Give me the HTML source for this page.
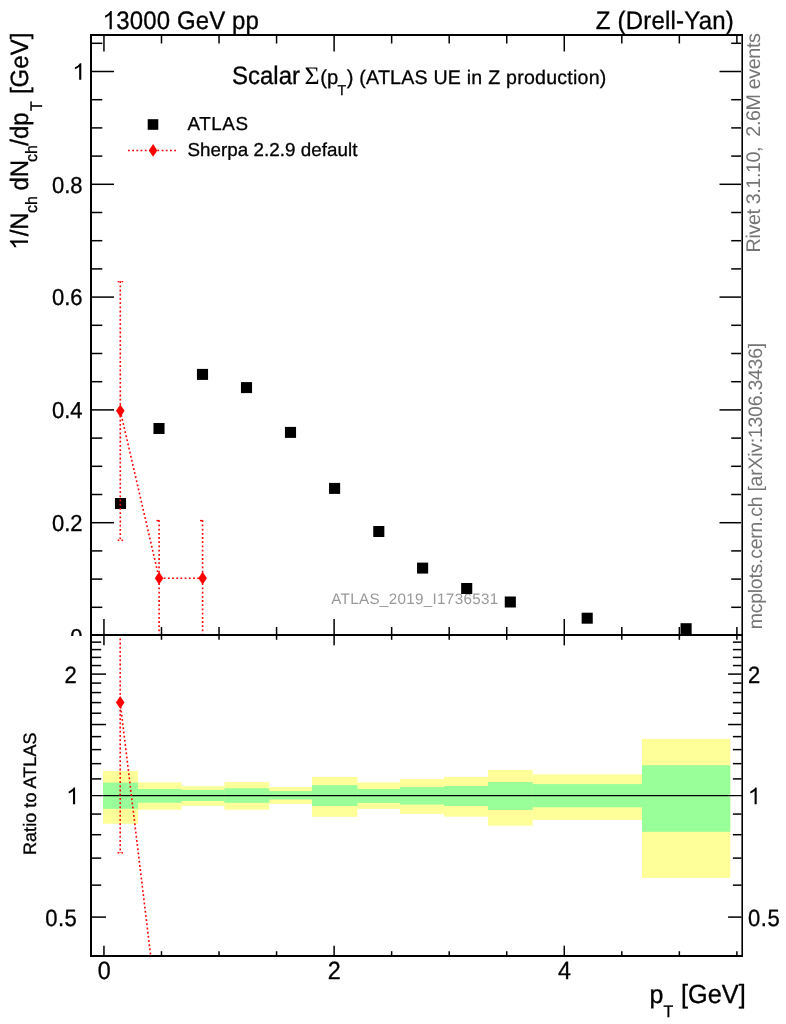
<!DOCTYPE html>
<html><head><meta charset="utf-8"><title>plot</title>
<style>html,body{margin:0;padding:0;background:#fff}svg{display:block;will-change:transform;text-rendering:geometricPrecision;font-family:"Liberation Sans",sans-serif}.sym{font-family:"Liberation Serif",serif}</style></head>
<body>
<svg width="786" height="1024" viewBox="0 0 786 1024"  xml:space="preserve">
<rect x="0" y="0" width="786" height="1024" fill="#fff"/>
<g id="upper">
<path transform="translate(102.37,29.2) scale(0.01235,-0.01235)" d="M763 0H583V1147Q518 1085 412.5 1023Q307 961 223 930V1104Q374 1175 487 1276Q600 1377 647 1472H763Z" fill="#000"/>
<text transform="translate(116.3 29.2) scale(1 1.055)" font-size="24" text-anchor="start" fill="#000" textLength="142.6" lengthAdjust="spacing" stroke="#000" stroke-width="0.3" >3000 GeV pp</text>
<text transform="translate(733.8 29.2) scale(1 1.055)" font-size="24" text-anchor="end" fill="#000" textLength="138" lengthAdjust="spacing" stroke="#000" stroke-width="0.3" >Z (Drell-Yan)</text>
<text transform="translate(232 84.0) scale(1 1.05)" font-size="24" text-anchor="start" fill="#000" stroke="#000" stroke-width="0.3" >Scalar</text>
<text transform="translate(304.6 83.6) scale(1 0.97)" font-size="26" text-anchor="start" fill="#000000" class="sym">&#931;</text>
<text x="320.3" y="84.0" font-size="20.2" text-anchor="start" fill="#000" stroke="#000" stroke-width="0.3" >(p</text>
<text x="337.6" y="94.5" font-size="14.2" text-anchor="start" fill="#000" stroke="#000" stroke-width="0.3" >T</text>
<text x="346.7" y="84.0" font-size="20.2" text-anchor="start" fill="#000" stroke="#000" stroke-width="0.3" >)</text>
<text x="359.3" y="83.9" font-size="19.6" text-anchor="start" fill="#000" textLength="247" lengthAdjust="spacing" stroke="#000" stroke-width="0.3" >(ATLAS UE in Z production)</text>
<rect x="147.7" y="119.2" width="10.6" height="10.6" fill="#000"/>
<text x="187.5" y="129.9" font-size="18.8" text-anchor="start" fill="#000" textLength="60.5" lengthAdjust="spacing" stroke="#000" stroke-width="0.3" >ATLAS</text>
<text x="187.5" y="156" font-size="18.8" text-anchor="start" fill="#000" textLength="170" lengthAdjust="spacing" stroke="#000" stroke-width="0.3" >Sherpa 2.2.9 default</text>
<text x="331.2" y="603.5" font-size="15.2" text-anchor="start" fill="#999" textLength="167" lengthAdjust="spacing" >ATLAS_2019_I1736531</text>
<path transform="translate(72.26,79.8) scale(0.01184,-0.01128)" d="M763 0H583V1147Q518 1085 412.5 1023Q307 961 223 930V1104Q374 1175 487 1276Q600 1377 647 1472H763Z" fill="#000"/>
<text transform="translate(82.6 192.6) scale(1 1.05)" font-size="22" text-anchor="end" fill="#000" stroke="#000" stroke-width="0.3" >0.8</text>
<text transform="translate(82.6 305.4) scale(1 1.05)" font-size="22" text-anchor="end" fill="#000" stroke="#000" stroke-width="0.3" >0.6</text>
<text transform="translate(82.6 418.2) scale(1 1.05)" font-size="22" text-anchor="end" fill="#000" stroke="#000" stroke-width="0.3" >0.4</text>
<text transform="translate(82.6 531.0) scale(1 1.05)" font-size="22" text-anchor="end" fill="#000" stroke="#000" stroke-width="0.3" >0.2</text>
<text transform="translate(82.6 644.7) scale(1 1.05)" font-size="22" text-anchor="end" fill="#000" stroke="#000" stroke-width="0.3" >0</text>
<g transform="translate(28,249) rotate(-90)">
<path transform="translate(-0.99,0) scale(0.01230,-0.01230)" d="M763 0H583V1147Q518 1085 412.5 1023Q307 961 223 930V1104Q374 1175 487 1276Q600 1377 647 1472H763Z" fill="#000"/>
<text transform="translate(12.65 0) scale(1 1.05)" font-size="24" text-anchor="start" fill="#000" stroke="#000" stroke-width="0.3" >/N</text>
<text transform="translate(35.9 9.1) scale(1 1.03)" font-size="16" text-anchor="start" fill="#000" stroke="#000" stroke-width="0.3" >ch</text>
<text transform="translate(58.5 0) scale(1 1.05)" font-size="24" text-anchor="start" fill="#000" stroke="#000" stroke-width="0.3" >dN</text>
<text transform="translate(86.9 9.1) scale(1 1.03)" font-size="16" text-anchor="start" fill="#000" stroke="#000" stroke-width="0.3" >ch</text>
<text transform="translate(103.3 0) scale(1 1.05)" font-size="24" text-anchor="start" fill="#000" stroke="#000" stroke-width="0.3" >/dp</text>
<text transform="translate(137.9 13.9) scale(1 1.05)" font-size="16" text-anchor="start" fill="#000" stroke="#000" stroke-width="0.3" >T</text>
<text transform="translate(154.95 0) scale(1 1.04)" font-size="24" text-anchor="start" fill="#000" stroke="#000" stroke-width="0.3" >[GeV]</text>
</g>
<text transform="translate(760.2 252.4) rotate(-90)" font-size="19.8" text-anchor="start" fill="#757575" textLength="219.3" lengthAdjust="spacing" >Rivet 3.1.10,&#160; 2.6M events</text>
<text transform="translate(762.3 629.3) rotate(-90)" font-size="19.5" text-anchor="start" fill="#757575" textLength="286.5" lengthAdjust="spacing" >mcplots.cern.ch [arXiv:1306.3436]</text>
</g>
<rect x="114.95" y="498.00" width="11.1" height="11" fill="#000"/>
<rect x="153.45" y="423.00" width="11.1" height="11" fill="#000"/>
<rect x="196.95" y="368.90" width="11.1" height="11" fill="#000"/>
<rect x="240.95" y="382.10" width="11.1" height="11" fill="#000"/>
<rect x="284.95" y="426.90" width="11.1" height="11" fill="#000"/>
<rect x="329.05" y="482.90" width="11.1" height="11" fill="#000"/>
<rect x="373.25" y="526.00" width="11.1" height="11" fill="#000"/>
<rect x="417.05" y="562.60" width="11.1" height="11" fill="#000"/>
<rect x="461.15" y="583.00" width="11.1" height="11" fill="#000"/>
<rect x="504.75" y="596.50" width="11.1" height="11" fill="#000"/>
<rect x="581.65" y="612.70" width="11.1" height="11" fill="#000"/>
<rect x="680.55" y="623.20" width="11.1" height="11" fill="#000"/>
<clipPath id="cu"><rect x="92" y="36" width="649" height="598"/></clipPath>
<g clip-path="url(#cu)">
<polyline points="120.3,410.8 159.1,578.2 202.6,578.2" stroke="#ff0000" stroke-width="1.6" stroke-dasharray="1.8 2.4" fill="none"/>
<line x1="120.3" y1="281.2" x2="120.3" y2="540.5" stroke="#ff0000" stroke-width="1.6" stroke-dasharray="1.8 2.4" fill="none"/>
<line x1="159.1" y1="520.3" x2="159.1" y2="640" stroke="#ff0000" stroke-width="1.6" stroke-dasharray="1.8 2.4" fill="none"/>
<line x1="202.6" y1="520.3" x2="202.6" y2="640" stroke="#ff0000" stroke-width="1.6" stroke-dasharray="1.8 2.4" fill="none"/>
<line x1="117.7" y1="281.6" x2="123.1" y2="281.6" stroke="#ff0000" stroke-width="1.4" stroke-dasharray="1.6 2.2"/>
<line x1="117.7" y1="540.2" x2="123.1" y2="540.2" stroke="#ff0000" stroke-width="1.4" stroke-dasharray="1.6 2.2"/>
<line x1="156.5" y1="520.6" x2="159.1" y2="520.6" stroke="#ff0000" stroke-width="1.4" />
<line x1="200.0" y1="520.6" x2="202.6" y2="520.6" stroke="#ff0000" stroke-width="1.4" />
<path d="M120.3,404.40000000000003 L124.6,410.8 L120.3,417.2 L116.0,410.8 Z" fill="#ff0000"/>
<path d="M159.1,571.8000000000001 L163.4,578.2 L159.1,584.6 L154.79999999999998,578.2 Z" fill="#ff0000"/>
<path d="M202.6,571.8000000000001 L206.9,578.2 L202.6,584.6 L198.29999999999998,578.2 Z" fill="#ff0000"/>
</g>
<line x1="128" y1="150.5" x2="176.6" y2="150.5" stroke="#ff0000" stroke-width="1.6" stroke-dasharray="1.8 2.4" fill="none"/>
<path d="M153.1,144.0 L157.4,150.4 L153.1,156.8 L148.79999999999998,150.4 Z" fill="#ff0000"/>
<line x1="103.95" y1="636" x2="103.95" y2="619.0" stroke="#000" stroke-width="1.5" />
<line x1="103.95" y1="35" x2="103.95" y2="51.5" stroke="#000" stroke-width="1.5" />
<line x1="161.49" y1="636" x2="161.49" y2="627.0" stroke="#000" stroke-width="1.5" />
<line x1="161.49" y1="35" x2="161.49" y2="43.5" stroke="#000" stroke-width="1.5" />
<line x1="219.03" y1="636" x2="219.03" y2="627.0" stroke="#000" stroke-width="1.5" />
<line x1="219.03" y1="35" x2="219.03" y2="43.5" stroke="#000" stroke-width="1.5" />
<line x1="276.57" y1="636" x2="276.57" y2="627.0" stroke="#000" stroke-width="1.5" />
<line x1="276.57" y1="35" x2="276.57" y2="43.5" stroke="#000" stroke-width="1.5" />
<line x1="334.11" y1="636" x2="334.11" y2="619.0" stroke="#000" stroke-width="1.5" />
<line x1="334.11" y1="35" x2="334.11" y2="51.5" stroke="#000" stroke-width="1.5" />
<line x1="391.65" y1="636" x2="391.65" y2="627.0" stroke="#000" stroke-width="1.5" />
<line x1="391.65" y1="35" x2="391.65" y2="43.5" stroke="#000" stroke-width="1.5" />
<line x1="449.19" y1="636" x2="449.19" y2="627.0" stroke="#000" stroke-width="1.5" />
<line x1="449.19" y1="35" x2="449.19" y2="43.5" stroke="#000" stroke-width="1.5" />
<line x1="506.72999999999996" y1="636" x2="506.72999999999996" y2="627.0" stroke="#000" stroke-width="1.5" />
<line x1="506.72999999999996" y1="35" x2="506.72999999999996" y2="43.5" stroke="#000" stroke-width="1.5" />
<line x1="564.27" y1="636" x2="564.27" y2="619.0" stroke="#000" stroke-width="1.5" />
<line x1="564.27" y1="35" x2="564.27" y2="51.5" stroke="#000" stroke-width="1.5" />
<line x1="621.8100000000001" y1="636" x2="621.8100000000001" y2="627.0" stroke="#000" stroke-width="1.5" />
<line x1="621.8100000000001" y1="35" x2="621.8100000000001" y2="43.5" stroke="#000" stroke-width="1.5" />
<line x1="679.35" y1="636" x2="679.35" y2="627.0" stroke="#000" stroke-width="1.5" />
<line x1="679.35" y1="35" x2="679.35" y2="43.5" stroke="#000" stroke-width="1.5" />
<line x1="736.89" y1="636" x2="736.89" y2="627.0" stroke="#000" stroke-width="1.5" />
<line x1="736.89" y1="35" x2="736.89" y2="43.5" stroke="#000" stroke-width="1.5" />
<line x1="91" y1="635.5" x2="114" y2="635.5" stroke="#000" stroke-width="1.5" />
<line x1="741" y1="635.5" x2="719.5" y2="635.5" stroke="#000" stroke-width="1.5" />
<line x1="91" y1="607.3" x2="102.3" y2="607.3" stroke="#000" stroke-width="1.5" />
<line x1="741" y1="607.3" x2="731.2" y2="607.3" stroke="#000" stroke-width="1.5" />
<line x1="91" y1="579.1" x2="102.3" y2="579.1" stroke="#000" stroke-width="1.5" />
<line x1="741" y1="579.1" x2="731.2" y2="579.1" stroke="#000" stroke-width="1.5" />
<line x1="91" y1="550.9" x2="102.3" y2="550.9" stroke="#000" stroke-width="1.5" />
<line x1="741" y1="550.9" x2="731.2" y2="550.9" stroke="#000" stroke-width="1.5" />
<line x1="91" y1="522.7" x2="114" y2="522.7" stroke="#000" stroke-width="1.5" />
<line x1="741" y1="522.7" x2="719.5" y2="522.7" stroke="#000" stroke-width="1.5" />
<line x1="91" y1="494.5" x2="102.3" y2="494.5" stroke="#000" stroke-width="1.5" />
<line x1="741" y1="494.5" x2="731.2" y2="494.5" stroke="#000" stroke-width="1.5" />
<line x1="91" y1="466.29999999999995" x2="102.3" y2="466.29999999999995" stroke="#000" stroke-width="1.5" />
<line x1="741" y1="466.29999999999995" x2="731.2" y2="466.29999999999995" stroke="#000" stroke-width="1.5" />
<line x1="91" y1="438.1" x2="102.3" y2="438.1" stroke="#000" stroke-width="1.5" />
<line x1="741" y1="438.1" x2="731.2" y2="438.1" stroke="#000" stroke-width="1.5" />
<line x1="91" y1="409.9" x2="114" y2="409.9" stroke="#000" stroke-width="1.5" />
<line x1="741" y1="409.9" x2="719.5" y2="409.9" stroke="#000" stroke-width="1.5" />
<line x1="91" y1="381.7" x2="102.3" y2="381.7" stroke="#000" stroke-width="1.5" />
<line x1="741" y1="381.7" x2="731.2" y2="381.7" stroke="#000" stroke-width="1.5" />
<line x1="91" y1="353.5" x2="102.3" y2="353.5" stroke="#000" stroke-width="1.5" />
<line x1="741" y1="353.5" x2="731.2" y2="353.5" stroke="#000" stroke-width="1.5" />
<line x1="91" y1="325.29999999999995" x2="102.3" y2="325.29999999999995" stroke="#000" stroke-width="1.5" />
<line x1="741" y1="325.29999999999995" x2="731.2" y2="325.29999999999995" stroke="#000" stroke-width="1.5" />
<line x1="91" y1="297.09999999999997" x2="114" y2="297.09999999999997" stroke="#000" stroke-width="1.5" />
<line x1="741" y1="297.09999999999997" x2="719.5" y2="297.09999999999997" stroke="#000" stroke-width="1.5" />
<line x1="91" y1="268.9" x2="102.3" y2="268.9" stroke="#000" stroke-width="1.5" />
<line x1="741" y1="268.9" x2="731.2" y2="268.9" stroke="#000" stroke-width="1.5" />
<line x1="91" y1="240.7" x2="102.3" y2="240.7" stroke="#000" stroke-width="1.5" />
<line x1="741" y1="240.7" x2="731.2" y2="240.7" stroke="#000" stroke-width="1.5" />
<line x1="91" y1="212.5" x2="102.3" y2="212.5" stroke="#000" stroke-width="1.5" />
<line x1="741" y1="212.5" x2="731.2" y2="212.5" stroke="#000" stroke-width="1.5" />
<line x1="91" y1="184.29999999999995" x2="114" y2="184.29999999999995" stroke="#000" stroke-width="1.5" />
<line x1="741" y1="184.29999999999995" x2="719.5" y2="184.29999999999995" stroke="#000" stroke-width="1.5" />
<line x1="91" y1="156.09999999999997" x2="102.3" y2="156.09999999999997" stroke="#000" stroke-width="1.5" />
<line x1="741" y1="156.09999999999997" x2="731.2" y2="156.09999999999997" stroke="#000" stroke-width="1.5" />
<line x1="91" y1="127.89999999999998" x2="102.3" y2="127.89999999999998" stroke="#000" stroke-width="1.5" />
<line x1="741" y1="127.89999999999998" x2="731.2" y2="127.89999999999998" stroke="#000" stroke-width="1.5" />
<line x1="91" y1="99.69999999999993" x2="102.3" y2="99.69999999999993" stroke="#000" stroke-width="1.5" />
<line x1="741" y1="99.69999999999993" x2="731.2" y2="99.69999999999993" stroke="#000" stroke-width="1.5" />
<line x1="91" y1="71.5" x2="114" y2="71.5" stroke="#000" stroke-width="1.5" />
<line x1="741" y1="71.5" x2="719.5" y2="71.5" stroke="#000" stroke-width="1.5" />
<line x1="91" y1="43.299999999999955" x2="102.3" y2="43.299999999999955" stroke="#000" stroke-width="1.5" />
<line x1="741" y1="43.299999999999955" x2="731.2" y2="43.299999999999955" stroke="#000" stroke-width="1.5" />
<rect x="0" y="636" width="786" height="388" fill="#fff"/>
<rect x="103" y="771" width="35.05" height="52.80" fill="#ffff99"/>
<rect x="137.75" y="782.4" width="43.95" height="27.30" fill="#ffff99"/>
<rect x="181.4" y="786.2" width="43.30" height="19.60" fill="#ffff99"/>
<rect x="224.4" y="782.1" width="44.80" height="27.60" fill="#ffff99"/>
<rect x="268.9" y="787.1" width="43.40" height="16.70" fill="#ffff99"/>
<rect x="312" y="776.9" width="45.50" height="39.90" fill="#ffff99"/>
<rect x="357.2" y="782.4" width="43.10" height="26.60" fill="#ffff99"/>
<rect x="400" y="779.1" width="44.30" height="34.70" fill="#ffff99"/>
<rect x="444" y="776.9" width="44.30" height="39.70" fill="#ffff99"/>
<rect x="488" y="770" width="44.70" height="55.70" fill="#ffff99"/>
<rect x="532.4" y="774.4" width="109.90" height="45.40" fill="#ffff99"/>
<rect x="642" y="738.9" width="88.30" height="139.00" fill="#ffff99"/>
<rect x="103" y="782.6" width="35.05" height="26.20" fill="#99ff99"/>
<rect x="137.75" y="789" width="43.95" height="13.75" fill="#99ff99"/>
<rect x="181.4" y="789.9" width="43.30" height="11.10" fill="#99ff99"/>
<rect x="224.4" y="788.3" width="44.80" height="14.50" fill="#99ff99"/>
<rect x="268.9" y="791.1" width="43.40" height="8.40" fill="#99ff99"/>
<rect x="312" y="785.1" width="45.50" height="20.90" fill="#99ff99"/>
<rect x="357.2" y="789" width="43.10" height="13.90" fill="#99ff99"/>
<rect x="400" y="787.1" width="44.30" height="17.40" fill="#99ff99"/>
<rect x="444" y="786" width="44.30" height="20.00" fill="#99ff99"/>
<rect x="488" y="782.1" width="44.70" height="27.80" fill="#99ff99"/>
<rect x="532.4" y="784.1" width="109.90" height="23.20" fill="#99ff99"/>
<rect x="642" y="765.2" width="88.30" height="66.60" fill="#99ff99"/>
<line x1="91" y1="795.6" x2="742" y2="795.6" stroke="#000" stroke-width="1.3" />
<clipPath id="cl"><rect x="92" y="636" width="649" height="319"/></clipPath>
<g clip-path="url(#cl)">
<line x1="120.2" y1="630" x2="120.2" y2="853.1" stroke="#ff0000" stroke-width="1.6" stroke-dasharray="1.8 2.4" fill="none"/>
<line x1="117.6" y1="852.8" x2="123" y2="852.8" stroke="#ff0000" stroke-width="1.4" stroke-dasharray="1.6 2.2"/>
<line x1="120.2" y1="702.4" x2="159" y2="1025" stroke="#ff0000" stroke-width="1.6" stroke-dasharray="1.8 2.4" fill="none"/>
<path d="M120.2,696.0 L124.5,702.4 L120.2,708.8 L115.9,702.4 Z" fill="#ff0000"/>
</g>
<line x1="103.95" y1="636" x2="103.95" y2="645.3" stroke="#000" stroke-width="1.5" />
<line x1="103.95" y1="955" x2="103.95" y2="945.7" stroke="#000" stroke-width="1.5" />
<line x1="161.49" y1="636" x2="161.49" y2="639.8" stroke="#000" stroke-width="1.5" />
<line x1="161.49" y1="955" x2="161.49" y2="951.2" stroke="#000" stroke-width="1.5" />
<line x1="219.03" y1="636" x2="219.03" y2="639.8" stroke="#000" stroke-width="1.5" />
<line x1="219.03" y1="955" x2="219.03" y2="951.2" stroke="#000" stroke-width="1.5" />
<line x1="276.57" y1="636" x2="276.57" y2="639.8" stroke="#000" stroke-width="1.5" />
<line x1="276.57" y1="955" x2="276.57" y2="951.2" stroke="#000" stroke-width="1.5" />
<line x1="334.11" y1="636" x2="334.11" y2="645.3" stroke="#000" stroke-width="1.5" />
<line x1="334.11" y1="955" x2="334.11" y2="945.7" stroke="#000" stroke-width="1.5" />
<line x1="391.65" y1="636" x2="391.65" y2="639.8" stroke="#000" stroke-width="1.5" />
<line x1="391.65" y1="955" x2="391.65" y2="951.2" stroke="#000" stroke-width="1.5" />
<line x1="449.19" y1="636" x2="449.19" y2="639.8" stroke="#000" stroke-width="1.5" />
<line x1="449.19" y1="955" x2="449.19" y2="951.2" stroke="#000" stroke-width="1.5" />
<line x1="506.72999999999996" y1="636" x2="506.72999999999996" y2="639.8" stroke="#000" stroke-width="1.5" />
<line x1="506.72999999999996" y1="955" x2="506.72999999999996" y2="951.2" stroke="#000" stroke-width="1.5" />
<line x1="564.27" y1="636" x2="564.27" y2="645.3" stroke="#000" stroke-width="1.5" />
<line x1="564.27" y1="955" x2="564.27" y2="945.7" stroke="#000" stroke-width="1.5" />
<line x1="621.8100000000001" y1="636" x2="621.8100000000001" y2="639.8" stroke="#000" stroke-width="1.5" />
<line x1="621.8100000000001" y1="955" x2="621.8100000000001" y2="951.2" stroke="#000" stroke-width="1.5" />
<line x1="679.35" y1="636" x2="679.35" y2="639.8" stroke="#000" stroke-width="1.5" />
<line x1="679.35" y1="955" x2="679.35" y2="951.2" stroke="#000" stroke-width="1.5" />
<line x1="736.89" y1="636" x2="736.89" y2="639.8" stroke="#000" stroke-width="1.5" />
<line x1="736.89" y1="955" x2="736.89" y2="951.2" stroke="#000" stroke-width="1.5" />
<line x1="91" y1="917.1" x2="106" y2="917.1" stroke="#000" stroke-width="1.5" />
<line x1="741.5" y1="917.1" x2="728.1" y2="917.1" stroke="#000" stroke-width="1.5" />
<line x1="91" y1="885.1413196911941" x2="101.2" y2="885.1413196911941" stroke="#000" stroke-width="1.5" />
<line x1="741.5" y1="885.1413196911941" x2="732.9" y2="885.1413196911941" stroke="#000" stroke-width="1.5" />
<line x1="91" y1="858.1206404988156" x2="101.2" y2="858.1206404988156" stroke="#000" stroke-width="1.5" />
<line x1="741.5" y1="858.1206404988156" x2="732.9" y2="858.1206404988156" stroke="#000" stroke-width="1.5" />
<line x1="91" y1="834.7142635288145" x2="101.2" y2="834.7142635288145" stroke="#000" stroke-width="1.5" />
<line x1="741.5" y1="834.7142635288145" x2="732.9" y2="834.7142635288145" stroke="#000" stroke-width="1.5" />
<line x1="91" y1="814.0683758535736" x2="101.2" y2="814.0683758535736" stroke="#000" stroke-width="1.5" />
<line x1="741.5" y1="814.0683758535736" x2="732.9" y2="814.0683758535736" stroke="#000" stroke-width="1.5" />
<line x1="91" y1="778.8933218643829" x2="101.2" y2="778.8933218643829" stroke="#000" stroke-width="1.5" />
<line x1="741.5" y1="778.8933218643829" x2="732.9" y2="778.8933218643829" stroke="#000" stroke-width="1.5" />
<line x1="91" y1="763.6413196911941" x2="101.2" y2="763.6413196911941" stroke="#000" stroke-width="1.5" />
<line x1="741.5" y1="763.6413196911941" x2="732.9" y2="763.6413196911941" stroke="#000" stroke-width="1.5" />
<line x1="91" y1="749.6108377746718" x2="101.2" y2="749.6108377746718" stroke="#000" stroke-width="1.5" />
<line x1="741.5" y1="749.6108377746718" x2="732.9" y2="749.6108377746718" stroke="#000" stroke-width="1.5" />
<line x1="91" y1="736.6206404988156" x2="101.2" y2="736.6206404988156" stroke="#000" stroke-width="1.5" />
<line x1="741.5" y1="736.6206404988156" x2="732.9" y2="736.6206404988156" stroke="#000" stroke-width="1.5" />
<line x1="91" y1="724.5270561623795" x2="106" y2="724.5270561623795" stroke="#000" stroke-width="1.5" />
<line x1="741.5" y1="724.5270561623795" x2="728.1" y2="724.5270561623795" stroke="#000" stroke-width="1.5" />
<line x1="91" y1="713.2142635288145" x2="101.2" y2="713.2142635288145" stroke="#000" stroke-width="1.5" />
<line x1="741.5" y1="713.2142635288145" x2="732.9" y2="713.2142635288145" stroke="#000" stroke-width="1.5" />
<line x1="91" y1="702.5875283168983" x2="101.2" y2="702.5875283168983" stroke="#000" stroke-width="1.5" />
<line x1="741.5" y1="702.5875283168983" x2="732.9" y2="702.5875283168983" stroke="#000" stroke-width="1.5" />
<line x1="91" y1="692.5683758535736" x2="101.2" y2="692.5683758535736" stroke="#000" stroke-width="1.5" />
<line x1="741.5" y1="692.5683758535736" x2="732.9" y2="692.5683758535736" stroke="#000" stroke-width="1.5" />
<line x1="91" y1="683.0910706454189" x2="101.2" y2="683.0910706454189" stroke="#000" stroke-width="1.5" />
<line x1="741.5" y1="683.0910706454189" x2="732.9" y2="683.0910706454189" stroke="#000" stroke-width="1.5" />
<line x1="91" y1="674.1" x2="106" y2="674.1" stroke="#000" stroke-width="1.5" />
<line x1="741.5" y1="674.1" x2="728.1" y2="674.1" stroke="#000" stroke-width="1.5" />
<line x1="91" y1="665.5476966611951" x2="101.2" y2="665.5476966611951" stroke="#000" stroke-width="1.5" />
<line x1="741.5" y1="665.5476966611951" x2="732.9" y2="665.5476966611951" stroke="#000" stroke-width="1.5" />
<line x1="91" y1="657.3933218643829" x2="101.2" y2="657.3933218643829" stroke="#000" stroke-width="1.5" />
<line x1="741.5" y1="657.3933218643829" x2="732.9" y2="657.3933218643829" stroke="#000" stroke-width="1.5" />
<line x1="91" y1="649.6014858678875" x2="101.2" y2="649.6014858678875" stroke="#000" stroke-width="1.5" />
<line x1="741.5" y1="649.6014858678875" x2="732.9" y2="649.6014858678875" stroke="#000" stroke-width="1.5" />
<line x1="91" y1="642.141319691194" x2="101.2" y2="642.141319691194" stroke="#000" stroke-width="1.5" />
<line x1="741.5" y1="642.141319691194" x2="732.9" y2="642.141319691194" stroke="#000" stroke-width="1.5" />
<text transform="translate(76.8 682.7) scale(1 1.07)" font-size="22" text-anchor="end" fill="#000" stroke="#000" stroke-width="0.3" >2</text>
<text transform="translate(747.9 682.7) scale(1 1.07)" font-size="22" text-anchor="start" fill="#000" stroke="#000" stroke-width="0.3" >2</text>
<text transform="translate(76.8 925.7) scale(1 1.07)" font-size="22" text-anchor="end" fill="#000" textLength="31.6" lengthAdjust="spacing" stroke="#000" stroke-width="0.3" >0.5</text>
<text transform="translate(747.9 925.7) scale(1 1.07)" font-size="22" text-anchor="start" fill="#000" textLength="31.8" lengthAdjust="spacing" stroke="#000" stroke-width="0.3" >0.5</text>
<path transform="translate(66.12,804.2) scale(0.01177,-0.01143)" d="M763 0H583V1147Q518 1085 412.5 1023Q307 961 223 930V1104Q374 1175 487 1276Q600 1377 647 1472H763Z" fill="#000"/>
<path transform="translate(747.72,804.2) scale(0.01177,-0.01143)" d="M763 0H583V1147Q518 1085 412.5 1023Q307 961 223 930V1104Q374 1175 487 1276Q600 1377 647 1472H763Z" fill="#000"/>
<text transform="translate(104.15 978.6) scale(1 1.07)" font-size="23.3" text-anchor="middle" fill="#000" stroke="#000" stroke-width="0.3" >0</text>
<text transform="translate(334.31 978.6) scale(1 1.07)" font-size="23.3" text-anchor="middle" fill="#000" stroke="#000" stroke-width="0.3" >2</text>
<text transform="translate(564.47 978.6) scale(1 1.07)" font-size="23.3" text-anchor="middle" fill="#000" stroke="#000" stroke-width="0.3" >4</text>
<text transform="translate(36 855) rotate(-90)" font-size="18" text-anchor="start" fill="#000" textLength="122.5" lengthAdjust="spacing" stroke="#000" stroke-width="0.3" >Ratio to ATLAS</text>
<text transform="translate(649.55 1002.9) scale(1 1.03)" font-size="25" text-anchor="start" fill="#000" stroke="#000" stroke-width="0.3" >p</text>
<text transform="translate(663.5 1016.6) scale(1 1.05)" font-size="16" text-anchor="start" fill="#000" stroke="#000" stroke-width="0.3" >T</text>
<text transform="translate(681.0 1003.1) scale(1 1.04)" font-size="25.3" text-anchor="start" fill="#000" stroke="#000" stroke-width="0.3" >[GeV]</text>
<line x1="91" y1="34" x2="91" y2="957" stroke="#000" stroke-width="2" />
<line x1="742.2" y1="34" x2="742.2" y2="957" stroke="#000" stroke-width="1.6" />
<line x1="90" y1="35" x2="743" y2="35" stroke="#000" stroke-width="2" />
<line x1="90" y1="635" x2="743" y2="635" stroke="#000" stroke-width="2" />
<line x1="90" y1="956" x2="743" y2="956" stroke="#000" stroke-width="2" />
</svg>
</body></html>
